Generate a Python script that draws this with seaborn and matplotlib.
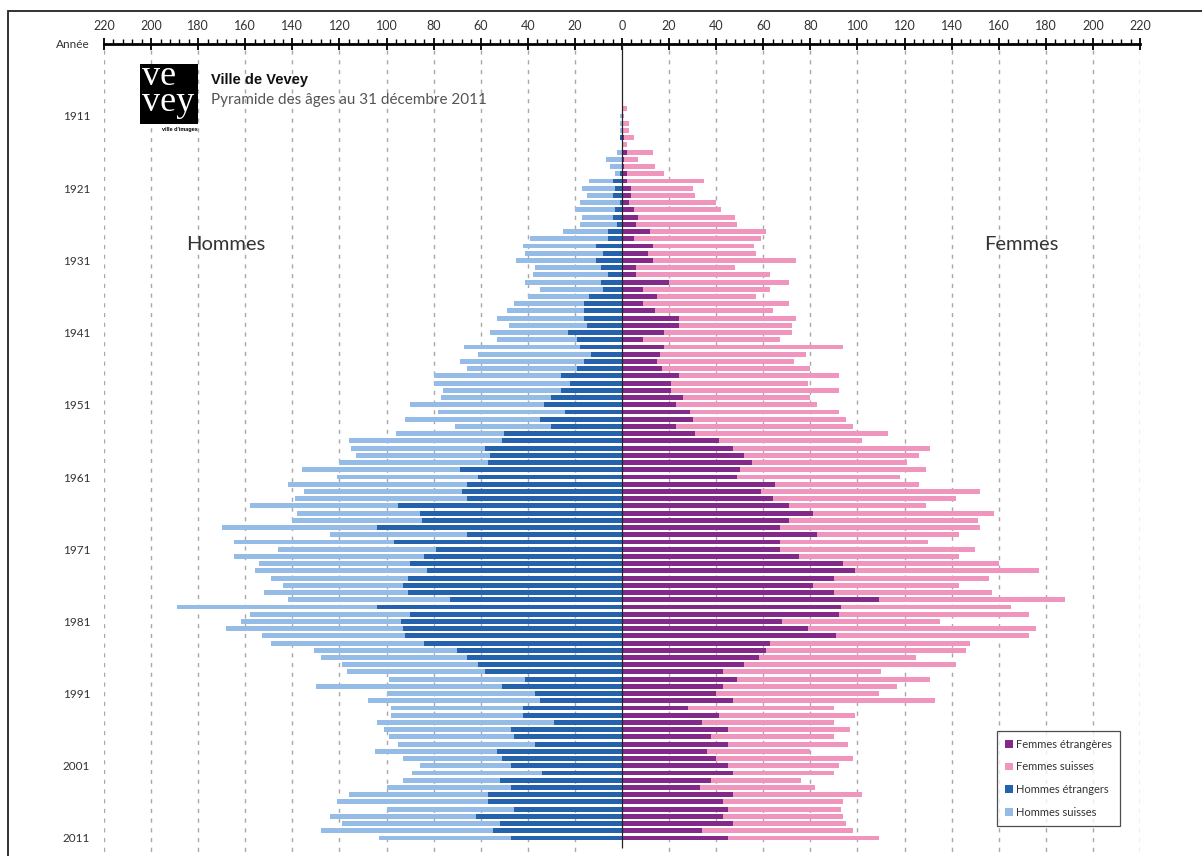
import matplotlib
matplotlib.use("Agg")
import matplotlib.pyplot as plt
import seaborn as sns
import pandas as pd
from matplotlib.patches import Patch, Rectangle

# ---------------- data ----------------
annees = list(range(1910, 2012))
hommes_etrangers = [0,0,0,0,1,0,0,0,0,1,
                    4,3,4,1,3,4,2,6,6,11,
                    8,11,9,6,9,8,14,16,16,16,
                    15,23,19,18,13,16,19,26,22,26,
                    30,33,24,35,30,50,51,58,56,57,
                    69,61,66,68,66,95,86,85,104,66,
                    97,79,84,90,83,91,93,91,73,104,
                    90,94,93,92,84,70,66,61,58,41,
                    51,37,35,42,42,29,47,46,37,53,
                    51,47,34,52,47,57,57,46,62,52,
                    55,47]
hommes_suisses = [0,1,1,1,0,0,2,7,5,2,
                  10,14,11,17,17,13,16,19,33,31,
                  33,34,28,32,32,27,26,30,33,37,
                  33,33,34,49,48,53,47,54,58,50,
                  47,57,54,57,41,46,65,57,57,63,
                  67,60,76,67,73,63,52,55,66,58,
                  68,67,81,64,73,58,51,61,69,85,
                  68,68,75,61,65,61,62,58,59,58,
                  79,63,73,56,56,75,54,53,58,52,
                  42,39,55,41,53,59,64,54,62,67,
                  73,56]
femmes_etrangeres = [0,0,0,0,1,0,2,1,1,2,
                     2,4,4,3,5,7,6,12,5,13,
                     11,13,6,6,20,9,15,9,14,24,
                     24,18,9,18,16,15,17,24,21,21,
                     26,23,29,30,23,31,41,47,52,55,
                     50,49,65,59,64,71,81,71,67,83,
                     67,67,75,94,99,90,81,90,109,93,
                     92,68,79,91,63,61,58,52,43,49,
                     43,40,47,28,41,34,45,38,45,36,
                     40,45,47,38,33,47,43,45,43,47,
                     34,45]
femmes_suisses = [2,1,3,3,4,2,11,6,13,16,
                  33,26,27,37,37,41,43,49,54,43,
                  46,61,42,57,51,54,42,62,50,50,
                  48,54,58,76,62,58,63,68,58,71,
                  54,60,63,65,75,82,61,84,74,66,
                  79,69,61,93,78,58,77,80,85,60,
                  63,83,68,66,78,66,62,67,79,72,
                  81,67,97,82,85,85,67,90,67,82,
                  74,69,86,62,58,56,52,52,51,44,
                  58,47,43,38,49,55,51,48,51,48,
                  64,64]
annees_labels = list(range(1911, 2012, 10))
x_ticks = list(range(-220, 221, 20))

series_labels = ["Femmes étrangères", "Femmes suisses", "Hommes étrangers", "Hommes suisses"]
series_colors = ["#82298A", "#F096BE", "#2462AE", "#94BCE6"]

df = pd.DataFrame({
    "annee": annees,
    "h_etr": [-v for v in hommes_etrangers],
    "h_tot": [-(a + b) for a, b in zip(hommes_etrangers, hommes_suisses)],
    "f_etr": femmes_etrangeres,
    "f_tot": [a + b for a, b in zip(femmes_etrangeres, femmes_suisses)],
})

# ---------------- figure ----------------
sns.set_style("white")
plt.rcParams["font.family"] = ["Lato", "DejaVu Sans"]
W, H = 1202, 856
fig = plt.figure(figsize=(W / 100, H / 100), dpi=100)

def fx(px):
    return px / W

def fy(py):
    return 1 - py / H

ax = fig.add_axes([fx(104), 0, fx(1140) - fx(104), fy(44)])

step = 7.22
y0 = 116 - step  # pixel of 1910
y_top = 1910 - (y0 - 44) / step
y_bot = 1910 + (856 - y0) / step

# grid lines (dashed) except centre
for xv in x_ticks:
    if xv != 0:
        ax.vlines(xv, 1910 - (y0 - 50) / step, y_bot, colors="#A8A8A8",
                  linestyles=(0, (3, 4)), linewidth=1.0, zorder=0)

common = dict(orient="y", native_scale=True, errorbar=None, width=0.68,
              saturation=1, linewidth=0, ax=ax, zorder=2)
sns.barplot(data=df, x="h_tot", y="annee", color=series_colors[3], **common)
sns.barplot(data=df, x="h_etr", y="annee", color=series_colors[2], **common)
sns.barplot(data=df, x="f_tot", y="annee", color=series_colors[1], **common)
sns.barplot(data=df, x="f_etr", y="annee", color=series_colors[0], **common)

ax.vlines(0, y_top, 1910 + (848 - y0) / step, colors="#222222", linewidth=0.9, zorder=3)

ax.set_xlim(-220, 220)
ax.set_ylim(y_bot, y_top)
ax.set_xlabel("")
ax.set_ylabel("")

# top axis
ax.xaxis.tick_top()
ax.set_xticks(x_ticks)
ax.set_xticklabels([str(abs(v)) for v in x_ticks])
ax.set_xticks(list(range(-220, 221, 4)), minor=True)
ax.tick_params(axis="x", which="major", direction="inout", length=9, width=1.3,
               color="black", labelsize=9, labelcolor="#333333", pad=4)
ax.tick_params(axis="x", which="minor", direction="out", length=3.5, width=1.0, color="black")
ax.set_yticks(annees_labels)
ax.set_yticklabels([str(v) for v in annees_labels])
ax.tick_params(axis="y", length=0, labelsize=8.5, labelcolor="#333333", pad=10)
for s in ["left", "right", "bottom"]:
    ax.spines[s].set_visible(False)
ax.spines["top"].set_linewidth(2)
ax.spines["top"].set_color("black")
ax.grid(False)
ax.set_facecolor("none")

fig.text(fx(90), fy(44), "Année", ha="right", va="center", fontsize=8.5, color="#333333")

# texts
fig.text(fx(186), fy(244), "Hommes", ha="left", va="center", fontsize=14.5, color="#333333")
fig.text(fx(984), fy(244), "Femmes", ha="left", va="center", fontsize=14.5, color="#333333")
fig.text(fx(211), fy(80), "Ville de Vevey", ha="left", va="center", fontsize=10.5,
         fontweight="bold", color="#111111", family=["Liberation Sans", "DejaVu Sans"])
fig.text(fx(211), fy(100), "Pyramide des âges au 31 décembre 2011", ha="left", va="center",
         fontsize=11, color="#555555")

# logo
fig.patches.append(Rectangle((fx(140), fy(124)), fx(198) - fx(140), fy(64) - fy(124),
                             transform=fig.transFigure, facecolor="black", edgecolor="none"))
fig.text(fx(142), fy(111), "ve\nvey", ha="left", va="baseline", multialignment="left",
         fontsize=26, color="white", linespacing=0.72,
         family=["Liberation Serif", "DejaVu Serif"])
fig.text(fx(162), fy(129), "ville d'images", ha="left", va="center", fontsize=4,
         fontweight="bold", color="black", family=["Liberation Sans", "DejaVu Sans"])

# outer frame
fig.patches.append(Rectangle((fx(8), -0.05), 1.1, fy(11) + 0.05, transform=fig.transFigure,
                             fill=False, edgecolor="#222222", linewidth=1.3))

# legend
handles = [Patch(facecolor=c, edgecolor="none", label=l) for l, c in zip(series_labels, series_colors)]
leg = fig.legend(handles=handles, loc="upper left", bbox_to_anchor=(fx(997), fy(731)),
                 bbox_transform=fig.transFigure, fontsize=8, frameon=True, fancybox=False,
                 edgecolor="#222222", handlelength=0.7, handleheight=0.7, handletextpad=0.3,
                 labelspacing=1.05, borderpad=0.7, borderaxespad=0)
leg.get_frame().set_linewidth(0.9)
for t in leg.get_texts():
    t.set_color("#333333")

fig.savefig("out.png", dpi=100)
